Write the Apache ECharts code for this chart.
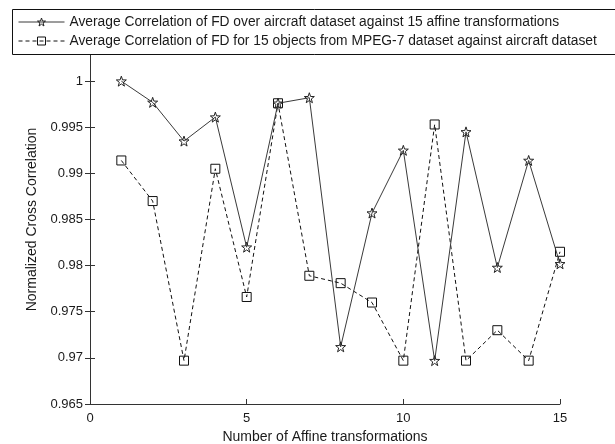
<!DOCTYPE html>
<html>
<head>
<meta charset="utf-8">
<script src="https://cdn.jsdelivr.net/npm/echarts@6/dist/echarts.min.js"></script>
<style>
  html, body { margin: 0; padding: 0; background: #fff; }
  #chart { width: 615px; height: 444px; }
</style>
</head>
<body>
<div id="chart"></div>
<script>
// Affine transformation index (x axis)
const transforms = [1, 2, 3, 4, 5, 6, 7, 8, 9, 10, 11, 12, 13, 14, 15];

// Average correlation of FD over the aircraft dataset, per affine transformation
const aircraftCorr = [1.0000, 0.9977, 0.9935, 0.9961, 0.9820, 0.9976, 0.9982, 0.9712,
                      0.9857, 0.9925, 0.9697, 0.9945, 0.9798, 0.9914, 0.9802];

// Average correlation of FD for 15 MPEG-7 objects against the aircraft dataset
const mpegCorr = [0.9914, 0.9870, 0.9697, 0.9905, 0.9766, 0.9976, 0.9789, 0.9781,
                  0.9760, 0.9697, 0.9953, 0.9697, 0.9730, 0.9697, 0.9815];

const seriesNames = [
  'Average Correlation of FD over aircraft dataset against 15 affine transformations',
  'Average Correlation of FD for 15 objects from MPEG-7 dataset against aircraft dataset'
];

const xTitle = 'Number of Affine transformations';
const yTitle = 'Normalized Cross Correlation';

// five-pointed star outline used as the marker of the first series
const starPath = 'path://M50 0 L61.76 33.82 L97.55 34.55 L69.02 56.18 L79.39 90.45 L50 70 L20.61 90.45 L30.98 56.18 L2.45 34.55 L38.24 33.82 Z';

const ink = '#1a1a1a';
const font = 'Liberation Sans, Arial, sans-serif';

function pairs(vals) {
  return transforms.map((x, i) => [x, vals[i]]);
}

const chart = echarts.init(document.getElementById('chart'), null, { renderer: 'canvas' });

const axisCommon = {
  axisLine: { show: true, lineStyle: { color: '#333', width: 1 } },
  axisTick: { show: true, inside: true, length: 5, lineStyle: { color: '#333' } },
  splitLine: { show: false },
  minorTick: { show: false }
};

chart.setOption({
  animation: false,
  backgroundColor: '#fff',
  textStyle: { fontFamily: font },
  grid: { left: 90, right: 55, top: 35, bottom: 40, containLabel: false, outerBoundsMode: 'none' },
  graphic: [{
    type: 'rect',
    z: 50,
    shape: { x: 12.5, y: 9.5, width: 610, height: 45 },
    style: { fill: '#fff', stroke: '#111', lineWidth: 1 }
  }],
  legend: {
    z: 60,
    orient: 'vertical',
    left: 18,
    top: 15,
    itemWidth: 46,
    itemHeight: 10,
    itemGap: 5,
    padding: 0,
    lineStyle: { width: 1 },
    itemStyle: { color: 'rgba(255,255,255,0)', borderWidth: 1 },
    textStyle: { fontSize: 13.8, color: ink, fontFamily: font },
    data: seriesNames
  },
  xAxis: [
    Object.assign({
      type: 'value', position: 'bottom', min: 0, max: 15, interval: 5,
      name: xTitle, nameLocation: 'middle', nameGap: 22,
      nameTextStyle: { fontSize: 14, color: ink },
      axisLabel: { fontSize: 13, color: ink, margin: 8 }
    }, axisCommon),
    Object.assign({
      type: 'value', position: 'top', min: 0, max: 15, interval: 5,
      axisLabel: { show: false }
    }, axisCommon)
  ],
  yAxis: [
    Object.assign({
      type: 'value', position: 'left', min: 0.965, max: 1.005, interval: 0.005,
      name: yTitle, nameLocation: 'middle', nameGap: 47, nameRotate: 90,
      nameTextStyle: { fontSize: 14, color: ink },
      axisLabel: {
        fontSize: 13, color: ink, margin: 7,
        formatter: v => (v > 1.001 ? '' : String(parseFloat(v.toFixed(3))))
      }
    }, axisCommon),
    Object.assign({
      type: 'value', position: 'right', min: 0.965, max: 1.005, interval: 0.005,
      axisLabel: { show: false }
    }, axisCommon)
  ],
  series: [
    {
      name: seriesNames[0],
      type: 'line',
      data: pairs(aircraftCorr),
      symbol: starPath,
      symbolSize: 10,
      lineStyle: { color: '#3a3a3a', width: 1, type: 'solid' },
      itemStyle: { color: 'rgba(255,255,255,0)', borderColor: '#222', borderWidth: 1 },
      z: 3
    },
    {
      name: seriesNames[1],
      type: 'line',
      data: pairs(mpegCorr),
      symbol: 'rect',
      symbolSize: 9,
      lineStyle: { color: '#111', width: 1, type: [4, 3] },
      itemStyle: { color: 'rgba(255,255,255,0)', borderColor: '#111', borderWidth: 1 },
      z: 2
    }
  ]
});
</script>
</body>
</html>
